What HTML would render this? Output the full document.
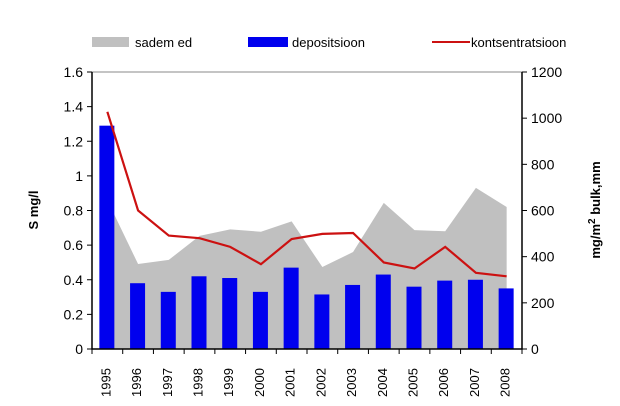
<!DOCTYPE html>
<html><head><meta charset="utf-8"><style>
body{margin:0;background:#fff;}
svg{display:block;font-family:"Liberation Sans",Arial,sans-serif;}
</style></head><body>
<svg id="c" width="620" height="406" viewBox="0 0 620 406">
<g>
<rect x="92" y="37" width="37" height="10" fill="#c0c0c0"/>
<text x="135" y="47" font-size="13">sadem ed</text>
<rect x="248" y="37" width="40" height="10" fill="#0000ee"/>
<text x="292" y="47" font-size="13">depositsioon</text>
<line x1="432" y1="42" x2="470" y2="42" stroke="#cc1111" stroke-width="2"/>
<text x="471" y="47" font-size="13">kontsentratsioon</text>
</g>
<text transform="translate(38,210) rotate(-90)" text-anchor="middle" font-size="13" font-weight="bold">S mg/l</text>
<text transform="translate(600,210) rotate(-90)" text-anchor="middle" font-size="13" font-weight="bold">mg/m<tspan dy="-5" font-size="10">2</tspan><tspan dy="5"> bulk,mm</tspan></text>
</svg>
<script>
const years=["1995","1996","1997","1998","1999","2000","2001","2002","2003","2004","2005","2006","2007","2008"];
const sademed=[645,368,386,490,518,508,553,355,420,633,515,510,698,615];
const depositsioon=[1.29,0.38,0.33,0.42,0.41,0.33,0.47,0.315,0.37,0.43,0.36,0.395,0.40,0.35];
const kontsentratsioon=[1.37,0.80,0.655,0.64,0.59,0.49,0.635,0.665,0.67,0.50,0.465,0.59,0.44,0.42];
const leftTicks=["0","0.2","0.4","0.6","0.8","1","1.2","1.4","1.6"];
const rightTicks=["0","200","400","600","800","1000","1200"];
const NS="http://www.w3.org/2000/svg";
const svg=document.getElementById('c');
const X0=92,X1=522,Y0=349,Y1=72;
const bw=(X1-X0)/years.length;
const yL=v=>Y0-(v/1.6)*(Y0-Y1);
const yR=v=>Y0-(v/1200)*(Y0-Y1);
const xC=i=>X0+bw*(i+0.5);
function mk(t,a){const e=document.createElementNS(NS,t);for(const k in a)e.setAttribute(k,a[k]);svg.appendChild(e);return e;}
const topBorder=mk('line',{x1:X0,y1:Y1,x2:X1,y2:Y1,stroke:'#888','stroke-width':1});


const pts=xC(0)+','+Y0+' '+sademed.map((v,i)=>xC(i)+','+yR(v)).join(' ')+' '+xC(years.length-1)+','+Y0;
const area=mk('polygon',{points:pts,fill:'#c0c0c0'});


depositsioon.forEach((v,i)=>{
 const r=mk('rect',{x:xC(i)-8,y:yL(v),width:15,height:Y0-yL(v),fill:'#0000ee'});
 
 
});
const line=mk('polyline',{points:kontsentratsioon.map((v,i)=>xC(i)+','+yL(v)).join(' '),fill:'none',stroke:'#cc1111','stroke-width':2.2});


const ax=mk('path',{d:`M${X0},${Y1}V${Y0}H${X1}V${Y1}`,fill:'none',stroke:'#000','stroke-width':1.5});


leftTicks.forEach((t)=>{
 const y=yL(+t);
 mk('line',{x1:X0-5,y1:y,x2:X0,y2:y,stroke:'#000'});
 const tx=mk('text',{x:X0-9,y:y+5,'text-anchor':'end','font-size':14});tx.textContent=t;
 
 
});
rightTicks.forEach(t=>{
 const y=yR(+t);
 mk('line',{x1:X1,y1:y,x2:X1+5,y2:y,stroke:'#000'});
 const tx=mk('text',{x:X1+9,y:y+5,'font-size':14});tx.textContent=t;
 
 
});
for(let i=0;i<=years.length;i++){mk('line',{x1:X0+bw*i,y1:Y0,x2:X0+bw*i,y2:Y0+5,stroke:'#000'});}
years.forEach((yv,i)=>{
 const tx=mk('text',{transform:`translate(${xC(i)+3},397) rotate(-90)`,'font-size':13});tx.textContent=yv;
 
 
});
</script>
</body></html>
